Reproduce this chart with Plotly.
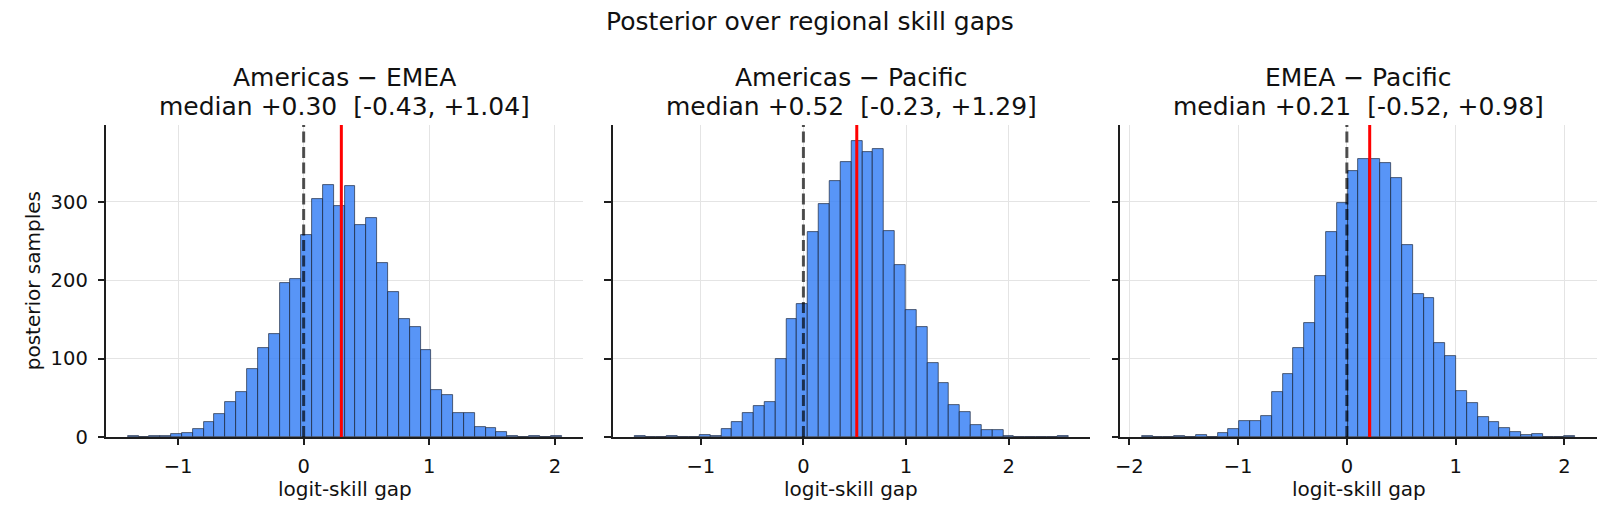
import plotly.graph_objects as go

# ---------------- data ----------------
pair_names = ["Americas − EMEA", "Americas − Pacific", "EMEA − Pacific"]
medians = [0.30, 0.52, 0.21]
ci_low = [-0.43, -0.23, -0.52]
ci_high = [1.04, 1.29, 0.98]

# histogram bin ranges (min, max of samples), 40 bins each
bin_lo = [-1.4005, -1.6476, -1.8867]
bin_hi = [2.053, 2.582, 2.101]

counts_am_emea = [1, 0, 1, 1, 4, 5, 10, 19, 29, 45, 57, 87, 113, 132, 197, 201, 258, 303, 321, 295,
                  320, 271, 280, 222, 185, 150, 140, 111, 60, 54, 30, 30, 13, 12, 6, 1, 0, 1, 0, 1]
counts_am_pac = [1, 0, 0, 1, 0, 0, 2, 1, 10, 19, 31, 39, 45, 99, 150, 170, 261, 297, 327, 351,
                 378, 363, 367, 263, 220, 162, 140, 95, 69, 41, 32, 15, 9, 9, 1, 0, 0, 0, 0, 1]
counts_emea_pac = [1, 0, 0, 1, 0, 2, 0, 5, 10, 21, 20, 27, 57, 81, 113, 145, 205, 262, 299, 339,
                   354, 355, 350, 331, 245, 183, 177, 120, 103, 59, 43, 25, 19, 12, 6, 2, 4, 0, 0, 1]
all_counts = [counts_am_emea, counts_am_pac, counts_emea_pac]

xticks = [[-1, 0, 1, 2], [-1, 0, 1, 2], [-2, -1, 0, 1, 2]]
yticks = [0, 100, 200, 300]

# ---------------- layout constants ----------------
W, H = 1620, 525
ML, MR, MT, MB = 106, 23, 125, 88
domains = [[0.0, 0.3201], [0.3398, 0.6600], [0.6801, 1.0]]
FONT = "DejaVu Sans"
TXT = "#111111"
AX = "#1e1e1e"
GRID = "#e4e4e4"

fig = go.Figure()


def fmt_tick(v):
    return ("−" + str(abs(v))) if v < 0 else str(v)


shapes = []
annotations = []
for i in range(3):
    counts = all_counts[i]
    n = len(counts)
    lo, hi = bin_lo[i], bin_hi[i]
    w = (hi - lo) / n
    centers = [lo + (k + 0.5) * w for k in range(n)]
    xa = "x" if i == 0 else f"x{i+1}"
    ya = "y" if i == 0 else f"y{i+1}"
    fig.add_trace(go.Bar(
        x=centers, y=counts, width=[w] * n,
        marker=dict(color="rgba(59,130,246,0.85)",
                    line=dict(color="rgba(25,35,55,0.85)", width=0.8)),
        xaxis=xa, yaxis=ya, showlegend=False, hoverinfo="x+y",
    ))
    margin = 0.05 * (hi - lo)
    xr = [lo - margin, hi + margin]
    axis_common = dict(
        showline=True, linecolor=AX, linewidth=1.6, mirror=False,
        ticks="outside", ticklen=6.5, tickwidth=1.6, tickcolor=AX,
        showgrid=True, gridcolor=GRID, gridwidth=1.4, zeroline=False,
        tickfont=dict(family=FONT, size=19.5, color=TXT),
    )
    fig.layout[("xaxis" if i == 0 else f"xaxis{i+1}")] = dict(
        domain=domains[i], range=xr, anchor=ya,
        tickvals=xticks[i], ticktext=[fmt_tick(v) for v in xticks[i]],
        ticklabelstandoff=4,
        **axis_common)
    fig.layout[("yaxis" if i == 0 else f"yaxis{i+1}")] = dict(
        domain=[0, 1], range=[0, 398], anchor=xa,
        tickvals=yticks, ticktext=[str(v) for v in yticks],
        showticklabels=(i == 0), ticklabelstandoff=6,
        **axis_common)

    # zero reference (dashed) and median (red)
    shapes.append(dict(type="line", xref=xa, yref=f"{ya} domain", x0=0, x1=0, y0=0, y1=1,
                       line=dict(color="rgba(0,0,0,0.68)", width=3, dash="11px,4.5px")))
    shapes.append(dict(type="line", xref=xa, yref=f"{ya} domain", x0=medians[i], x1=medians[i],
                       y0=0, y1=1, line=dict(color="#ff0000", width=3)))

    cx = (domains[i][0] + domains[i][1]) / 2
    annotations.append(dict(text=pair_names[i], xref="paper", yref="paper", x=cx, y=1.152,
                            xanchor="center", yanchor="middle", showarrow=False,
                            font=dict(family=FONT, size=25, color=TXT)))
    sub = f"median {medians[i]:+.2f}  [{ci_low[i]:.2f}, {ci_high[i]:+.2f}]"
    annotations.append(dict(text=sub.replace("  ", "&nbsp;&nbsp;"),
                            xref="paper", yref="paper", x=cx, y=1.06,
                            xanchor="center", yanchor="middle", showarrow=False,
                            font=dict(family=FONT, size=25, color=TXT)))
    annotations.append(dict(text="logit-skill gap", xref="paper", yref="paper", x=cx, y=-0.168,
                            xanchor="center", yanchor="middle", showarrow=False,
                            font=dict(family=FONT, size=20, color=TXT)))

annotations.append(dict(text="posterior samples", xref="paper", yref="paper",
                        x=-0.0488, y=0.5, textangle=-90, xanchor="center", yanchor="middle",
                        showarrow=False, font=dict(family=FONT, size=20, color=TXT)))

fig.update_layout(
    width=W, height=H,
    margin=dict(l=ML, r=MR, t=MT, b=MB, pad=0),
    paper_bgcolor="white", plot_bgcolor="white",
    bargap=0,
    title=dict(text="Posterior over regional skill gaps", xref="container", x=0.5,
               y=1 - 21 / H, yref="container", xanchor="center", yanchor="middle",
               font=dict(family=FONT, size=25, color=TXT)),
    shapes=shapes, annotations=annotations,
    font=dict(family=FONT, color=TXT),
)

fig.write_html("out.html")
